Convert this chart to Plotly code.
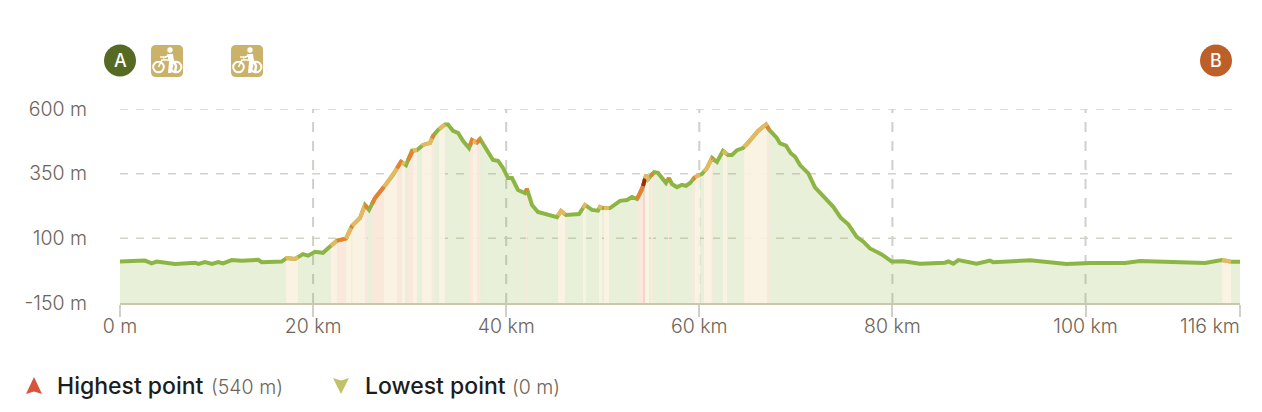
import numpy as np
import plotly.graph_objects as go

distance_km = [0, 2.59, 3.28, 3.80, 5.70, 7.77, 8.12, 8.80, 9.54, 10.16, 10.67, 11.57, 12.60, 14.31, 14.67, 16.75,
    17.26, 18.13, 18.95, 19.47, 20.20, 21.02, 21.75, 22.47, 23.41, 24.03, 24.86, 25.37, 25.79, 26.41, 27.34, 28.27,
    29.10, 29.62, 30.24, 30.76, 31.38, 32.11, 32.42, 32.94, 33.66, 33.97, 34.49, 35.01, 35.52, 36.15, 36.46, 36.97,
    37.29, 38.01, 38.63, 39.15, 39.67, 40.19, 40.60, 41.22, 41.95, 42.15, 42.67, 43.29, 44.02, 44.74, 45.26, 45.67,
    46.19, 47.54, 48.16, 48.89, 49.51, 49.71, 50.02, 50.75, 51.79, 52.51, 53.03, 53.55, 54.06, 54.48, 54.69, 55.31,
    55.72, 56.55, 56.86, 57.17, 57.69, 58.21, 58.62, 59.04, 59.55, 60.28, 60.80, 61.31, 61.83, 62.45, 62.97, 63.39,
    63.90, 64.52, 65.04, 66.08, 66.91,
    67.25, 68.01, 68.36, 68.98, 69.47, 69.91, 70.43, 71.29, 71.98, 72.84, 73.36, 73.88, 74.64, 75.43, 76.30, 76.99,
    77.68, 78.89, 79.93,
    81.13, 82.86, 85.45, 85.79, 86.31, 86.83, 88.73, 90.10, 90.42, 94.25, 98.04, 100.46,
    104.09, 105.64, 111.34, 112.37, 114.13, 115.17, 116]
elevation_m = [10, 14, 3, 10, 1, 6, 1, 8, 1, 8, 3, 16, 13, 17, 8, 10,
    24, 20, 39, 33, 48, 44, 68, 91, 99, 148, 179, 229, 210, 256, 299, 345,
    396, 383, 439, 441, 461, 469, 496, 519, 540, 540, 516, 508, 477, 449, 480, 470,
    484, 441, 403, 400, 372, 333, 333, 287, 275, 291, 229, 202, 194, 190, 182, 206,
    190, 194, 229, 210, 207, 221, 217, 217, 245, 248, 260, 252, 287, 345, 329, 356,
    353, 314, 333, 310, 298, 307, 303, 314, 337, 349, 372, 411, 395, 438, 422, 422,
    441, 449, 469, 515, 540,
    519, 489, 467, 458, 429, 416, 383, 351, 297, 261, 244, 222, 180, 154, 106, 87,
    61, 38, 10,
    11, 2, 6, 11, 2, 16, 2, 14, 8, 15, 1, 5,
    5, 12, 9, 5, 16, 9, 9]

climb_start_km = [17.19, 21.85, 22.47, 23.41, 23.93, 24.06, 25.37, 26.10, 27.34, 28.69, 29.21, 29.83, 30.35, 31.28,
    32.31, 33.04, 36.25, 36.56, 36.97, 42.05, 45.36, 47.95, 49.61, 50.13, 53.55, 54.17, 54.38, 55.00, 56.76, 59.35,
    59.55, 60.49, 61.31, 62.45, 64.63, 65.15, 67.01, 114.13]
climb_end_km = [18.44, 22.47, 23.41, 23.93, 24.06, 25.37, 25.63, 27.34, 28.69, 29.21, 29.52, 30.35, 30.76, 32.31,
    32.52, 33.66, 36.56, 36.97, 37.29, 42.18, 46.09, 48.26, 49.92, 50.65, 54.17, 54.38, 54.79, 55.20, 56.86, 59.55,
    60.07, 61.31, 61.42, 62.87, 65.15, 67.01, 67.22, 115.07]
climb_class = ["m", "m", "s", "m", "s", "m", "s", "s", "m", "s", "m", "s", "m", "m",
    "s", "m", "s", "m", "s", "s", "m", "m", "m", "m", "s", "x", "m", "s", "s", "s",
    "m", "m", "s", "m", "m", "m", "s", "m"]

y_ticks = [-150, 100, 350, 600]
y_labels = ["-150 m", "100 m", "350 m", "600 m"]
x_ticks = [0, 20, 40, 60, 80, 100, 116]
x_labels = ["0 m", "20 km", "40 km", "60 km", "80 km", "100 km", ""]

LINE = {"m": "#e5b95f", "s": "#e8812f", "x": "#9c2a10"}
BAND = {"m": "rgba(251,242,227,0.92)", "s": "rgba(252,231,220,0.92)", "x": "rgba(240,212,205,0.92)"}
GREEN = "#8db544"
TICK = "#6e6558"
FONT = "Inter"

PL, PR, PT, PB = 120, 1240, 109, 303
X = lambda p: (p - PL) / (PR - PL)
Y = lambda p: (PB - p) / (PB - PT)


def pth(*cmds):
    out = []
    for c in cmds:
        if len(c) == 1:
            out.append(c[0])
        else:
            vals = c[1:]
            pts = " ".join(f"{X(vals[i]):.5f},{Y(vals[i+1]):.5f}" for i in range(0, len(vals), 2))
            out.append(f"{c[0]}{pts}")
    return " ".join(out)


def circle(cx, cy, r, fill=None, line=None, w=0):
    return dict(type="circle", xref="paper", yref="paper", x0=X(cx - r), x1=X(cx + r), y0=Y(cy + r), y1=Y(cy - r),
                fillcolor=fill or "rgba(0,0,0,0)", line=dict(color=line or "rgba(0,0,0,0)", width=w), layer="above")


def poly(d, fill=None, line=None, w=0):
    return dict(type="path", xref="paper", yref="paper", path=d, fillcolor=fill or "rgba(0,0,0,0)",
                line=dict(color=line or "rgba(0,0,0,0)", width=w), layer="above")


def bike(x, y):
    s = 32
    r = 5
    G = "#cbb26a"
    W = "#ffffff"
    box = pth(("M", x + r, y), ("L", x + s - r, y), ("Q", x + s, y, x + s, y + r), ("L", x + s, y + s - r),
              ("Q", x + s, y + s, x + s - r, y + s), ("L", x + r, y + s), ("Q", x, y + s, x, y + s - r),
              ("L", x, y + r), ("Q", x, y, x + r, y), ("Z",))
    return [
        poly(box, fill=G),
        circle(x + 7.5, y + 22, 5.3, line=W, w=2),
        circle(x + 25, y + 22, 5.3, line=W, w=2),
        circle(x + 19, y + 5, 2.7, fill=W),
        poly(pth(("M", x + 7.5, y + 22), ("L", x + 11, y + 15), ("L", x + 23, y + 15)), line=W, w=1.6),
        poly(pth(("M", x + 9, y + 12), ("L", x + 13, y + 12)), line=W, w=1.4),
        poly(pth(("M", x + 12, y + 13), ("L", x + 19, y + 10)), line=W, w=1.8),
        poly(pth(("M", x + 16, y + 9), ("L", x + 22, y + 9), ("L", x + 23, y + 17), ("L", x + 20.5, y + 28),
                 ("L", x + 17, y + 28), ("L", x + 18, y + 17), ("Z",)), fill=W),
        poly(pth(("M", x + 23, y + 16), ("L", x + 25, y + 21), ("L", x + 24, y + 28)), line=W, w=2.4),
    ]


d = np.array(distance_km, dtype=float)
e = np.array(elevation_m, dtype=float)

fig = go.Figure()
fig.add_trace(go.Scatter(x=list(d) + [d[-1], d[0]], y=list(e) + [-150, -150], mode="lines", fill="toself",
                         fillcolor="rgba(141,181,68,0.2)", line=dict(width=0), hoverinfo="skip"))


def slice_profile(a, b):
    inner = (d > a) & (d < b)
    xs = np.r_[a, d[inner], b]
    ys = np.r_[np.interp(a, d, e), e[inner], np.interp(b, d, e)]
    return xs, ys


for a, b, c in zip(climb_start_km, climb_end_km, climb_class):
    xs, ys = slice_profile(a, b)
    fig.add_trace(go.Scatter(x=list(xs) + [b, a], y=list(ys) + [-150, -150], mode="lines", fill="toself",
                             fillcolor=BAND[c], line=dict(width=0), hoverinfo="skip"))

fig.add_trace(go.Scatter(x=d, y=e, mode="lines", line=dict(color=GREEN, width=4), hoverinfo="skip"))
for a, b, c in zip(climb_start_km, climb_end_km, climb_class):
    xs, ys = slice_profile(a, b)
    fig.add_trace(go.Scatter(x=xs, y=ys, mode="lines", line=dict(color=LINE[c], width=4), hoverinfo="skip"))

shapes = []
for v in y_ticks[1:]:
    shapes.append(dict(type="line", xref="x", yref="y", x0=0, x1=115.2, y0=v, y1=v, layer="below",
                       line=dict(color="#d6d2ca", width=1.5, dash="8px,8px")))
for v in x_ticks[1:-1]:
    shapes.append(dict(type="line", xref="x", yref="y", x0=v, x1=v, y0=-150, y1=600, layer="below",
                       line=dict(color="#cfcfcb", width=2, dash="10px,9px")))

shapes.append(circle(120, 60.5, 16, fill="#566a24"))
shapes.append(circle(1216, 60.5, 16, fill="#bd5f29"))
shapes += bike(151, 45) + bike(231, 45)
shapes.append(poly(pth(("M", 34, 377), ("L", 42, 394), ("L", 34, 391.5), ("L", 26, 394), ("Z",)), fill="#d9553a"))
shapes.append(poly(pth(("M", 333, 378), ("L", 341, 380.5), ("L", 349, 378), ("L", 341, 394), ("Z",)), fill="#bfc267"))


def label(px, py, text, size, color, anchor="left", weight=400):
    return dict(xref="paper", yref="paper", x=X(px), y=Y(py), text=text, showarrow=False, xanchor=anchor,
                yanchor="middle", font=dict(family=FONT, size=size, color=color, weight=weight))


annotations = [
    label(120, 60.5, "A", 18, "#ffffff", "center", 500),
    label(1216, 60.5, "B", 18, "#ffffff", "center", 500),
    label(1242, 326, "116 km", 19.5, TICK, "right", 300),
    label(55, 385.5, "Highest point", 23, "#1d1d1b", "left", 500),
    label(209, 387, "(540 m)", 19.5, TICK, "left", 300),
    label(363, 385.5, "Lowest point", 23, "#1d1d1b", "left", 500),
    label(510, 387, "(0 m)", 19.5, TICK, "left", 300),
]

fig.update_layout(
    width=1262, height=412, autosize=False, showlegend=False,
    margin=dict(l=PL, r=1262 - PR, t=PT, b=412 - PB, pad=0),
    paper_bgcolor="#ffffff", plot_bgcolor="#ffffff",
    font=dict(family=FONT, size=19.5, color=TICK),
    shapes=shapes, annotations=annotations,
    xaxis=dict(range=[0, 116], tickmode="array", tickvals=x_ticks, ticktext=x_labels, showgrid=False, zeroline=False,
               showline=True, linecolor="#c9c8ac", linewidth=2, ticks="outside", ticklen=12, tickwidth=1.5,
               tickcolor="#cfcfcb", ticklabelstandoff=-7,
               tickfont=dict(family=FONT, size=19.5, color=TICK, weight=300), fixedrange=True),
    yaxis=dict(range=[-150, 600], tickmode="array", tickvals=y_ticks, ticktext=y_labels, showgrid=False, zeroline=False,
               showline=False, ticks="outside", ticklen=28, tickcolor="rgba(0,0,0,0)",
               tickfont=dict(family=FONT, size=19.5, color=TICK, weight=300), fixedrange=True),
)
fig.write_html("out.html", config={"displayModeBar": False},
               post_script="document.body.style.margin='0';")
